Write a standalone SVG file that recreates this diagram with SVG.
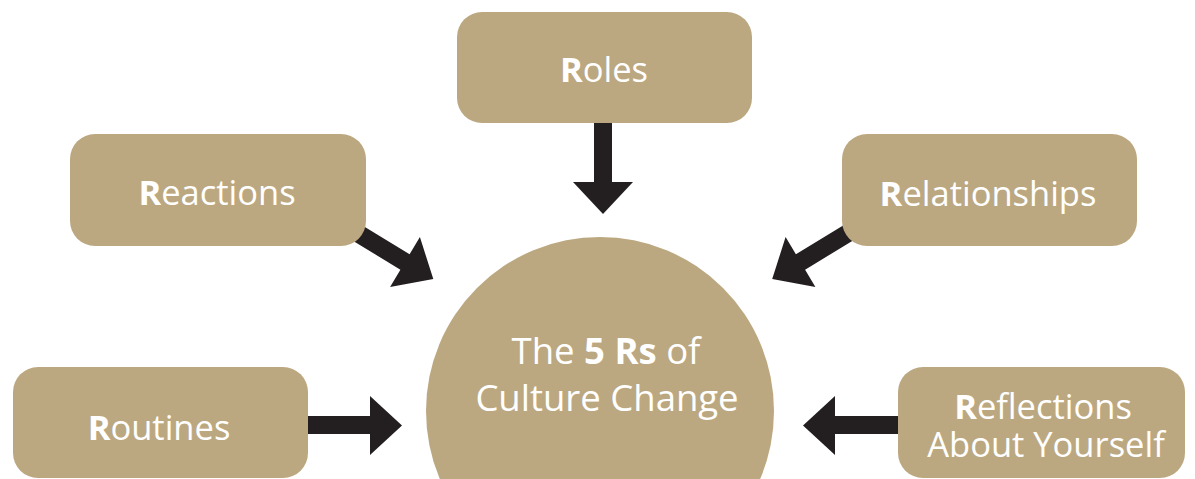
<svg xmlns="http://www.w3.org/2000/svg" width="1195" height="479" viewBox="0 0 1195 479">
  <style>
    .box { fill: #BCA880; }
    .lbl { font-family: "Open Sans", "Liberation Sans", sans-serif; font-size: 34.5px; fill: #FFFFFF; text-anchor: middle; }
    .mid { font-size: 36.5px; }
    .b { font-weight: 700; }
    .arrow { fill: #231F20; }
  </style>
  <rect width="1195" height="479" fill="#FFFFFF"/>

  <!-- connectors: all arrows point at the central circle -->
  <g id="connectors">
    <!-- Roles -> centre -->
    <polygon class="arrow" points="594,115 612,115 612,182 633,182 603,214 573,182 594,182"/>
    <!-- Reactions -> centre -->
    <polygon class="arrow" points="345.6,215.3 409.6,254.3 419.9,237.1 433.3,279 390.1,286.9 400.4,269.7 336.4,230.7"/>
    <!-- Relationships -> centre -->
    <polygon class="arrow" points="859.9,215.3 795.9,254.3 785.6,237.1 772.2,279 815.4,286.9 805.1,269.7 869.1,230.7"/>
    <!-- Routines -> centre -->
    <polygon class="arrow" points="300,416 370,416 370,396 402,425.5 370,455 370,434 300,434"/>
    <!-- Reflections -> centre -->
    <polygon class="arrow" points="905,416 835,416 835,396 803,425.5 835,455 835,434 905,434"/>
  </g>

  <g id="centre">
    <circle class="box" cx="600" cy="411" r="174"/>
    <text class="lbl mid" x="606" y="364">The <tspan class="b">5 Rs</tspan> of</text>
    <text class="lbl mid" x="607" y="411">Culture Change</text>
  </g>

  <g id="roles">
    <rect class="box" x="457" y="12" width="295" height="111" rx="25"/>
    <text class="lbl" x="604" y="82"><tspan class="b">R</tspan>oles</text>
  </g>

  <g id="reactions">
    <rect class="box" x="70" y="134" width="296" height="112" rx="25"/>
    <text class="lbl" x="217" y="205"><tspan class="b">R</tspan>eactions</text>
  </g>

  <g id="relationships">
    <rect class="box" x="842" y="134" width="295" height="112" rx="25"/>
    <text class="lbl" x="988" y="206"><tspan class="b">R</tspan>elationships</text>
  </g>

  <g id="routines">
    <rect class="box" x="13" y="367" width="295" height="111" rx="25"/>
    <text class="lbl" x="159" y="440"><tspan class="b">R</tspan>outines</text>
  </g>

  <g id="reflections">
    <rect class="box" x="898" y="367" width="287" height="111" rx="25"/>
    <text class="lbl" x="1043" y="419"><tspan class="b">R</tspan>eflections<tspan x="1046" y="457">About Yourself</tspan></text>
  </g>
</svg>
